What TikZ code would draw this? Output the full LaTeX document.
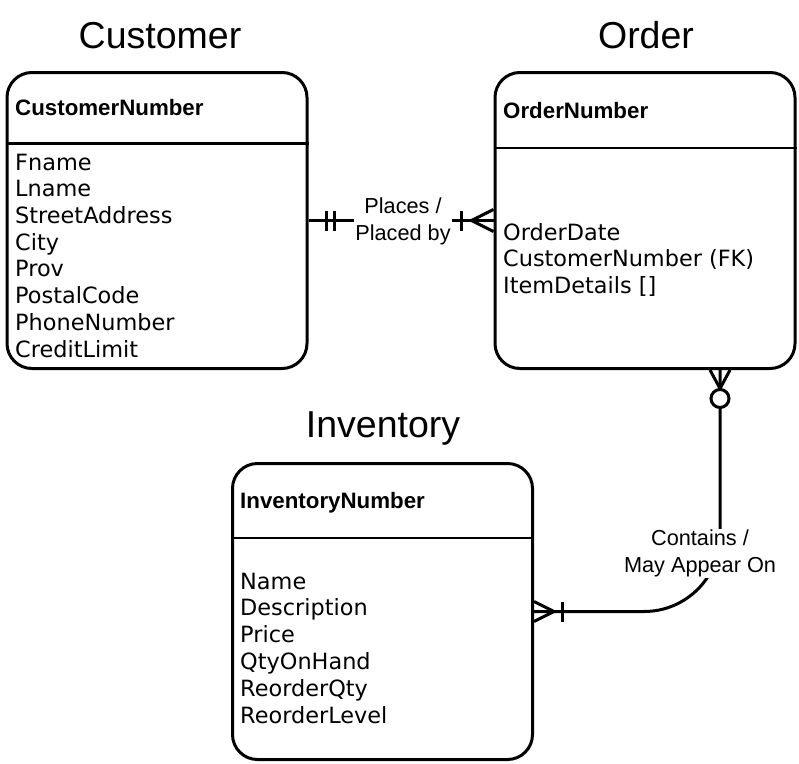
\documentclass[tikz,border=0pt]{standalone}
\usepackage{fontspec}
\setmainfont{Liberation Sans}
\newfontfamily\attrfont{DejaVu Sans}
\usepackage{tikz}
\usetikzlibrary{calc}
\tikzset{
	entitystyle/.style={rectangle,draw=black,line width=3pt,rounded corners=25pt,minimum width=300pt,minimum height=296pt},
	titlestyle/.style={anchor=base,inner sep=0pt,font=\fontsize{37.5}{45}\selectfont},
	keystyle/.style={anchor=base west,inner sep=0pt,font=\fontsize{22.3}{26}\selectfont\bfseries},
	attrstyle/.style={anchor=base west,inner sep=0pt,font=\attrfont\fontsize{22.4}{26}\selectfont},
	relstyle/.style={rectangle,fill=white,align=center,inner sep=1pt,font=\fontsize{21.7}{27}\selectfont},
	relline/.style={draw=black,line width=3pt},
	dividerline/.style={draw=black,line width=2.7pt}
}
\begin{document}
\begin{tikzpicture}[x=1pt,y=-1pt]
	\useasboundingbox (0,0) rectangle (799,763);
	\node[entitystyle] (cust) at (157,220.5) {};
	\node[entitystyle] (ord) at (645,220.5) {};
	\node[entitystyle] (inv) at (382.5,611.5) {};
	\draw[dividerline] (cust.west |- 0,143.5) -- (cust.east |- 0,143.5);
	\draw[dividerline] (ord.west |- 0,148) -- (ord.east |- 0,148);
	\draw[dividerline] (inv.west |- 0,538) -- (inv.east |- 0,538);
	\node[titlestyle] (custt) at (160,48) {Customer};
	\node[titlestyle] (ordt) at (646,48) {Order};
	\node[titlestyle] (invt) at (383,437) {Inventory};
	\node[keystyle] (custk) at (15,115) {CustomerNumber};
	\node[keystyle] (ordk) at (503,118) {OrderNumber};
	\node[keystyle] (invk) at (240,508) {InventoryNumber};
	\node[attrstyle] (c1) at (15,170) {Fname};
	\node[attrstyle] (c2) at (15,196.7) {Lname};
	\node[attrstyle] (c3) at (15,223.4) {StreetAddress};
	\node[attrstyle] (c4) at (15,250.1) {City};
	\node[attrstyle] (c5) at (15,276.8) {Prov};
	\node[attrstyle] (c6) at (15,303.5) {PostalCode};
	\node[attrstyle] (c7) at (15,330.2) {PhoneNumber};
	\node[attrstyle] (c8) at (15,357) {CreditLimit};
	\node[attrstyle] (o1) at (503,240) {OrderDate};
	\node[attrstyle] (o2) at (503,266.5) {CustomerNumber (FK)};
	\node[attrstyle] (o3) at (503,293) {ItemDetails []};
	\node[attrstyle] (i1) at (240,589) {Name};
	\node[attrstyle] (i2) at (240,615.8) {Description};
	\node[attrstyle] (i3) at (240,642.6) {Price};
	\node[attrstyle] (i4) at (240,669.4) {QtyOnHand};
	\node[attrstyle] (i5) at (240,696.2) {ReorderQty};
	\node[attrstyle] (i6) at (240,723) {ReorderLevel};
	\draw[relline] (cust) -- node[relstyle,xshift=2pt,yshift=-1pt] (places) {Places /\\Placed by} (ord);
	\draw[relline] ([xshift=18pt,yshift=-10pt]cust.east) -- ([xshift=18pt,yshift=10pt]cust.east)
	([xshift=26pt,yshift=-10pt]cust.east) -- ([xshift=26pt,yshift=10pt]cust.east);
	\draw[relline] ([xshift=-32pt,yshift=-10pt]ord.west) -- ([xshift=-32pt,yshift=10pt]ord.west);
	\draw[relline] ([yshift=11pt]ord.west) -- ([xshift=-22pt]ord.west) -- ([yshift=-11pt]ord.west);
	\draw[relline,rounded corners=76pt] ([xshift=75pt]ord.south) |- (inv.east);
	\draw[relline] ([xshift=65pt]ord.south) -- ([xshift=75pt,yshift=-18.5pt]ord.south) -- ([xshift=85pt]ord.south);
	\draw[relline,fill=white] ([xshift=75pt,yshift=-28.5pt]ord.south) circle (9pt);
	\draw[relline] ([yshift=10pt]inv.east) -- ([xshift=20pt]inv.east) -- ([yshift=-10pt]inv.east);
	\draw[relline] ([xshift=28pt,yshift=-10pt]inv.east) -- ([xshift=28pt,yshift=10pt]inv.east);
	\node[relstyle] (contains) at (700,553.5) {Contains /\\May Appear On};
\end{tikzpicture}
\end{document}
